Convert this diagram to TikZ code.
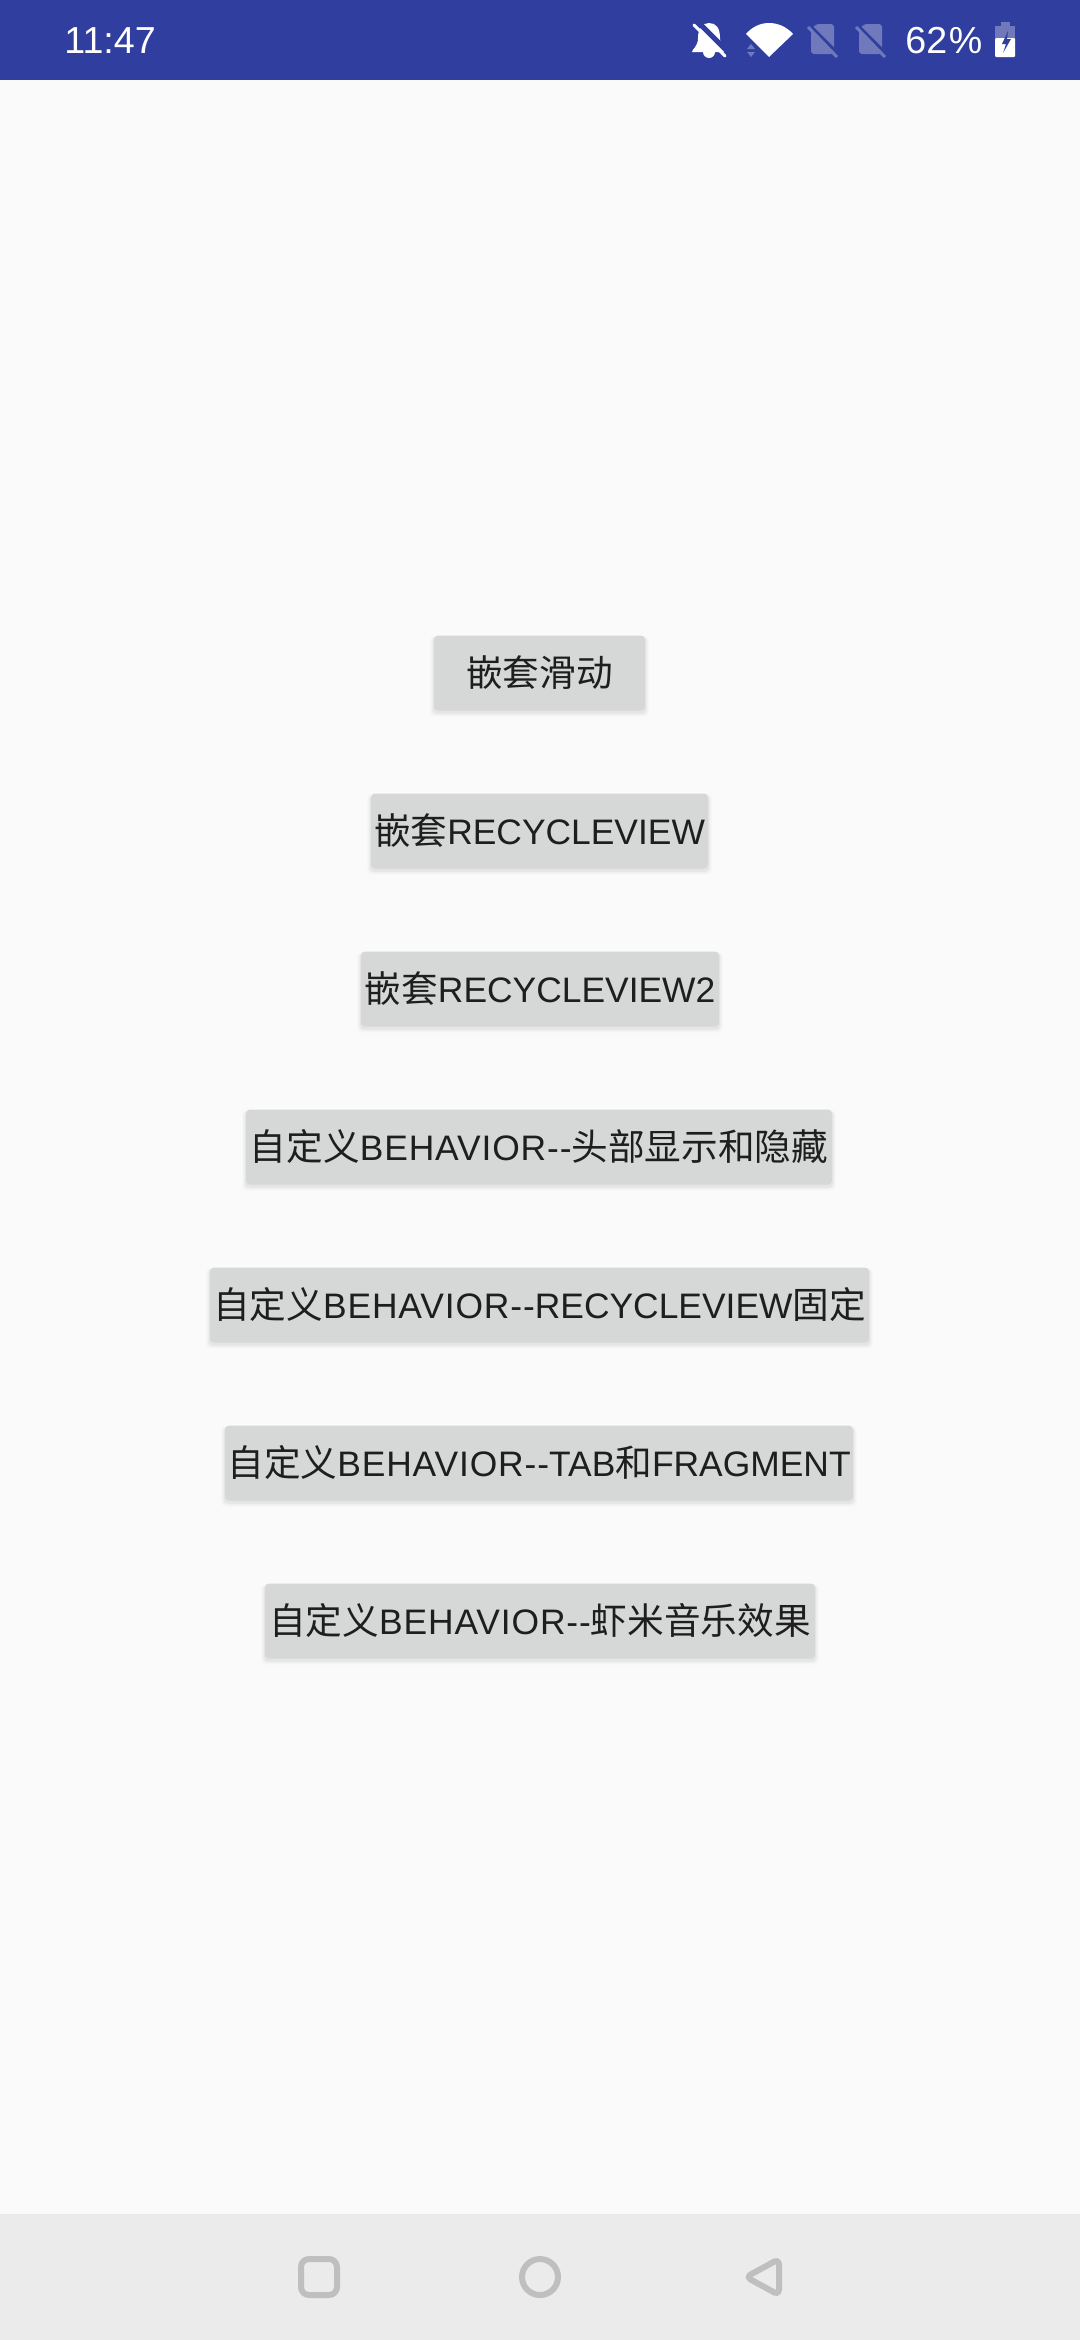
\documentclass[tikz,border=0pt]{standalone}
\usepackage{fontspec}
\setmainfont{Liberation Sans}
\newfontfamily\cjk[Scale=1.035]{Noto Sans CJK SC}
\newfontfamily\bhfont[LetterSpace=2.5]{Liberation Sans}
\definecolor{barblue}{HTML}{303F9F}
\definecolor{dimblue}{HTML}{6F79BC}
\definecolor{pagebg}{HTML}{FAFAFA}
\definecolor{navbg}{HTML}{EBEBEB}
\definecolor{navicon}{HTML}{BFBFBF}
\definecolor{btnbg}{HTML}{D6D7D7}
\definecolor{btntext}{HTML}{1E1E1E}
\tikzset{
  btnnode/.style={fill=btnbg,text=btntext,rounded corners=2pt,inner sep=0pt,
    text height=15pt,text depth=2pt,
    minimum height=37.5pt,font=\fontsize{17.7pt}{22pt}\selectfont,anchor=center},
  statustext/.style={text=white,inner sep=0pt,font=\fontsize{18.8pt}{22pt}\selectfont},
  navstroke/.style={draw=navicon,line width=3pt,line join=round},
}
\newcommand{\btn}[5]{%
  \foreach \e/\o in {4/.012,3/.016,2/.022,1/.03}{%
    \fill[black,opacity=\o,rounded corners=2pt]
      (#3-\e,#2-37.5+2-\e*.3) rectangle (#4+\e,#2+37.5+2+\e);
  }%
  \node[btnnode,minimum width={(#4-#3)*0.5pt}] (#1) at ({(#3+#4)/2},#2) {#5};
}
\newcommand{\bhw}{{\bhfont BEHAVIOR-{}-}}
\begin{document}
\begin{tikzpicture}[x=.5pt,y=-.5pt]
\useasboundingbox (0,0) rectangle (1080,2340);
\fill[pagebg] (0,0) rectangle (1080,2340);
\fill[barblue] (0,0) rectangle (1080,80);
\fill[navbg] (0,2214) rectangle (1080,2340);

% status bar texts
\node[statustext,anchor=base west] (clock) at (64,53) {11:47};
\node[statustext,anchor=base west] (battpct) at (905,53) {62\kern.8pt\%};

% bell
\fill[white] (692,52) .. controls (692,49) and (698,47) .. (698,38)
  .. controls (698,28) and (703,23) .. (709,23)
  .. controls (716,23) and (720,28) .. (720,38)
  .. controls (720,47) and (727,49) .. (727,52) -- cycle;
\fill[white] (703,52) arc[start angle=180,end angle=360,radius=3pt];
\draw[barblue,line width=2.5pt] (698,22) -- (730,54);
\draw[white,line width=1.5pt,line cap=round] (694,25) -- (725,56);

% wifi
\fill[white] (769,57) -- (746,34) .. controls (752,27) and (760,23) .. (769,23)
  .. controls (778,23) and (787,27) .. (793,34) -- cycle;
\fill[dimblue] (751,44) -- (747,49) -- (755,49) -- cycle;
\fill[dimblue] (751,57) -- (747,52) -- (755,52) -- cycle;

% sim icons
\foreach \sx in {811,859}{
  \fill[dimblue,rounded corners=1.5pt] (\sx+5,24) -- (\sx+23,24) -- (\sx+23,54) -- (\sx,54) -- (\sx,30) -- cycle;
  \draw[barblue,line width=2.5pt] (\sx-2,26) -- (\sx+25,53);
  \draw[dimblue,line width=1.5pt] (\sx-3,27) -- (\sx+26,57);
}

% battery
\fill[dimblue] (1001,22) rectangle (1010,27);
\fill[dimblue] (995,26) rectangle (1015,38);
\fill[white,rounded corners=.5pt] (995,38) rectangle (1015,57);
\fill[barblue] (1008,31) -- (1002,44) -- (1006,44) -- (1003,53) -- (1011,39) -- (1007,39) -- cycle;

% buttons
\btn{b1}{673}{434}{645}{{\cjk 嵌套滑动}}
\btn{b2}{831}{371}{708}{{\cjk 嵌套}RECYCLEVIEW}
\btn{b3}{989}{361}{719}{{\cjk 嵌套}RECYCLEVIEW2}
\btn{b4}{1147}{246}{832}{{\cjk 自定义}\bhw{\cjk 头部显示和隐藏}}
\btn{b5}{1305}{210}{869}{{\cjk 自定义}\bhw RECYCLEVIEW{\cjk 固定}}
\btn{b6}{1463}{225}{853}{{\cjk 自定义}\bhw TAB{\cjk 和}FRAGMENT}
\btn{b7}{1621}{265}{815}{{\cjk 自定义}\bhw{\cjk 虾米音乐效果}}

% navigation icons
\draw[navstroke,rounded corners=4pt] (301,2259) rectangle (337,2295);
\draw[navstroke] (540,2277) circle[radius=9pt];
\draw[navstroke,rounded corners=2.5pt] (779,2259) -- (779,2295) -- (746,2277) -- cycle;
\end{tikzpicture}
\end{document}
